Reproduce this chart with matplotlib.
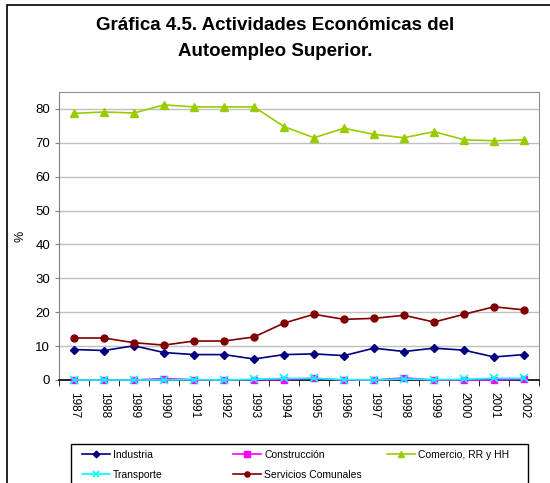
import numpy as np
import matplotlib
matplotlib.use('Agg')
import matplotlib.pyplot as plt
from matplotlib.patches import Rectangle

plt.rcParams['font.family'] = ['Liberation Sans', 'DejaVu Sans']

years = ['1987', '1988', '1989', '1990', '1991', '1992', '1993', '1994',
         '1995', '1996', '1997', '1998', '1999', '2000', '2001', '2002']

industria = [9.0, 8.7, 10.1, 8.1, 7.5, 7.5, 6.2, 7.5, 7.7, 7.2, 9.4, 8.4, 9.4, 8.8, 6.8, 7.5]
construccion = [0.0, 0.0, 0.0, 0.4, 0.1, 0.0, 0.1, 0.1, 0.5, 0.0, 0.0, 0.6, 0.0, 0.0, 0.0, 0.3]
comercio = [78.7, 79.1, 78.8, 81.2, 80.6, 80.6, 80.6, 74.8, 71.5, 74.3, 72.5, 71.5, 73.3, 70.9, 70.6, 70.9]
transporte = [0.0, 0.0, 0.0, 0.0, 0.1, 0.0, 0.2, 0.5, 0.5, 0.1, 0.0, 0.3, 0.1, 0.2, 0.5, 0.5]
servicios = [12.4, 12.4, 11.0, 10.3, 11.5, 11.5, 12.7, 16.8, 19.4, 17.9, 18.2, 19.1, 17.1, 19.4, 21.6, 20.7]

x = np.arange(len(years))

fig = plt.figure(figsize=(5.5, 4.83), dpi=100)
# outer chart border
fig.patches.append(Rectangle((7/550, -0.1), 1.2, 1 - 5/483 + 0.1, transform=fig.transFigure,
                             fill=False, edgecolor='black', linewidth=1.2))
# legend frame (runs off the bottom, like the reference)
fig.patches.append(Rectangle((71/550, -0.1), (528-71)/550, 1 - 444/483 + 0.1, transform=fig.transFigure,
                             fill=False, edgecolor='black', linewidth=1.0))

ax = fig.add_axes([59/550, 1 - 380/483, 480/550, 288/483])

l_ind, = ax.plot(x, industria, '-', color='#000080', marker='D', markersize=4.5, linewidth=1.2, label='Industria')
l_con, = ax.plot(x, construccion, '-', color='#FF00FF', marker='s', markersize=5, linewidth=1.2,
                 label='Construcción', clip_on=False, zorder=3)
l_com, = ax.plot(x, comercio, '-', color='#99CC00', marker='^', markersize=6, linewidth=1.2, label='Comercio, RR y HH')
l_tra, = ax.plot(x, transporte, '-', color='#00FFFF', marker='x', markersize=6, markeredgewidth=1.2, linewidth=1.2,
                 label='Transporte', clip_on=False, zorder=4)
l_ser, = ax.plot(x, servicios, '-', color='#800000', marker='o', markersize=5, linewidth=1.2, label='Servicios Comunales')

ax.set_xlim(-0.5, 15.5)
ax.set_ylim(0, 85)
ax.set_yticks(np.arange(0, 81, 10))
ax.yaxis.grid(True, color='#c0c0c0', linewidth=1)
ax.set_axisbelow(True)

ax.set_xticks(x)
ax.set_xticklabels(years, rotation=270, fontsize=8.5)
ax.set_xticks(np.arange(-0.5, 16, 1), minor=True)
ax.tick_params(axis='x', which='major', length=0, pad=9)
ax.tick_params(axis='x', which='minor', length=4, direction='out', color='black')
ax.tick_params(axis='y', labelsize=9.5, length=3, direction='out', color='#808080')

for s in ['top', 'right']:
    ax.spines[s].set_color('#909090')
ax.spines['left'].set_color('#808080')
ax.spines['bottom'].set_color('black')
ax.spines['bottom'].set_linewidth(1.2)

ax.set_ylabel('%', fontsize=9, labelpad=6)

fig.text(0.5, 1 - 25/483, 'Gráfica 4.5. Actividades Económicas del', ha='center', va='center',
         fontsize=13.5, fontweight='bold')
fig.text(0.5, 1 - 52/483, 'Autoempleo Superior.', ha='center', va='center',
         fontsize=13.5, fontweight='bold')

# legend: three equal-width columns, filled row by row
columns = [([l_ind, l_tra], 82), ([l_con, l_ser], 233), ([l_com], 387)]
for handles, xpos in columns:
    fig.legend(handles=handles, loc='upper left', bbox_to_anchor=(xpos/550, 1 - 450/483),
               fontsize=7.5, frameon=False, borderpad=0, handlelength=2.7,
               handletextpad=0.3, labelspacing=0.95, markerscale=0.75, borderaxespad=0)

fig.savefig('out.png', dpi=100)
